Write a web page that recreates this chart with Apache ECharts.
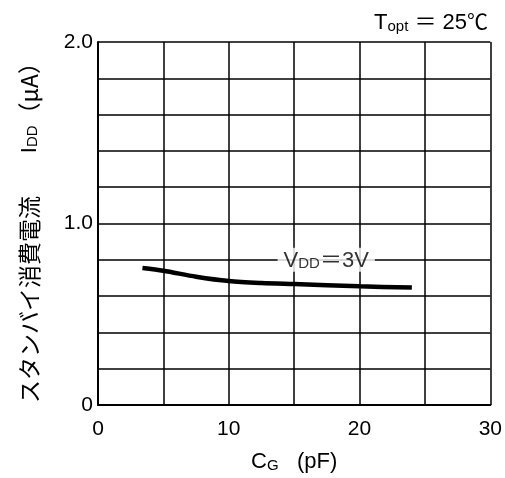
<!DOCTYPE html>
<html>
<head>
<meta charset="utf-8">
<script src="https://cdn.jsdelivr.net/npm/echarts@6/dist/echarts.min.js"></script>
<style>
  html, body { margin: 0; padding: 0; background: #fff; }
  #chart { width: 505px; height: 478px; }
</style>
</head>
<body>
<div id="chart"></div>
<script>
// Load capacitance CG (pF) vs standby current IDD (µA), VDD = 3 V, Topt = 25 °C
const capacitance = [3.4, 5, 7.5, 10, 12.5, 15, 20, 24];
const standbyCurrent = [0.755, 0.74, 0.707, 0.683, 0.672, 0.666, 0.654, 0.647];

const xTickLabels = { 0: '0', 10: '10', 20: '20', 30: '30' };
const yTickLabels = { 0: '0', 10: '1.0', 20: '2.0' };   // keyed by value * 10

const curveLabel = { x: 17.45, y: 0.8, text: '{v|V}{s|DD}{v|＝3V}' };

const FONT = '"Liberation Sans", Arial, "Noto Sans CJK JP", sans-serif';
const INK = '#000';

const chart = echarts.init(document.getElementById('chart'), null, { renderer: 'canvas' });

const big = { fontSize: 22, fontFamily: FONT, color: INK, lineHeight: 24, verticalAlign: 'bottom' };
const small = { fontSize: 15, fontFamily: FONT, color: INK, lineHeight: 18, verticalAlign: 'bottom' };

chart.setOption({
  animation: false,
  backgroundColor: '#fff',
  grid: { left: 98, right: 13, top: 42, bottom: 71 },
  xAxis: {
    type: 'value',
    min: 0, max: 30, interval: 5,
    axisLine: { show: true, lineStyle: { color: INK, width: 2 } },
    axisTick: { show: false },
    splitLine: { show: true, lineStyle: { color: INK, width: 1.5 } },
    axisLabel: {
      margin: 14,
      fontSize: 21, fontFamily: FONT, color: INK,
      formatter: v => xTickLabels[Math.round(v)] !== undefined && Math.abs(v - Math.round(v)) < 1e-6 ? xTickLabels[Math.round(v)] : ''
    },
    name: '{c|C}{g|G}{c|   (pF)}',
    nameLocation: 'middle',
    nameGap: 44,
    nameTextStyle: { rich: { c: big, g: small } }
  },
  yAxis: {
    type: 'value',
    min: 0, max: 2, interval: 0.2,
    axisLine: { show: true, lineStyle: { color: INK, width: 2 } },
    axisTick: { show: false },
    splitLine: { show: true, lineStyle: { color: INK, width: 1.5 } },
    axisLabel: {
      margin: 5,
      fontSize: 21, fontFamily: FONT, color: INK,
      padding: [6, 0, 0, 0],
      formatter: v => {
        const k = Math.round(v * 10);
        return Math.abs(v * 10 - k) < 1e-6 && yTickLabels[k] !== undefined ? yTickLabels[k] : '';
      }
    }
  },
  graphic: [
    {
      type: 'text',
      right: 17, top: 12,
      style: {
        text: '{b|T}{s|opt}{b| ＝ 25}{c|℃}',
        rich: { b: big, s: small, c: Object.assign({}, big, { fontSize: 21 }) }
      }
    },
    {
      type: 'text',
      x: 28, y: 227,
      rotation: Math.PI / 2,
      style: {
        text: '{j|スタンバイ消費電流}{b|       I}{s|DD}{j|（μA）}',
        align: 'center', verticalAlign: 'middle',
        rich: {
          j: { fontSize: 23, fontFamily: '"Noto Sans CJK JP", sans-serif', color: INK, lineHeight: 25, verticalAlign: 'bottom' },
          b: big, s: small
        }
      }
    }
  ],
  series: [
    {
      type: 'line',
      data: capacitance.map((c, i) => [c, standbyCurrent[i]]),
      smooth: 0.3,
      symbol: 'none',
      lineStyle: { color: '#000', width: 4.5 },
      z: 5
    },
    {
      type: 'scatter',
      data: [[curveLabel.x, curveLabel.y]],
      symbolSize: 0,
      silent: true,
      z: 6,
      label: {
        show: true,
        position: 'inside',
        formatter: curveLabel.text,
        backgroundColor: '#fff',
        padding: [0, 6],
        rich: { v: big, s: small }
      }
    }
  ]
});
</script>
</body>
</html>
